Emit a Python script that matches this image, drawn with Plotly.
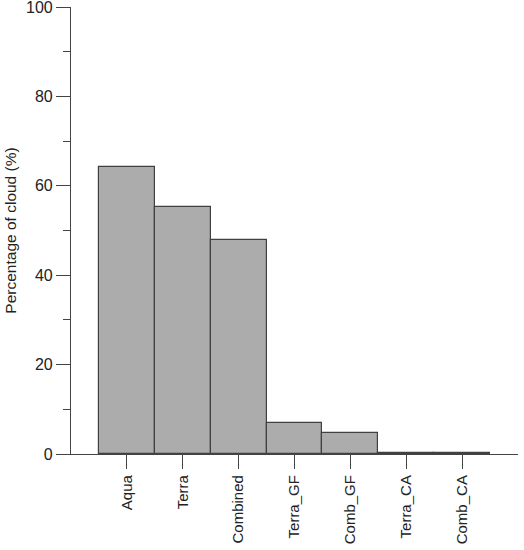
import plotly.graph_objects as go

# values
categories = ["Aqua", "Terra", "Combined", "Terra_GF", "Comb_GF", "Terra_CA", "Comb_CA"]
cloud_pct = [64.2, 55.3, 47.9, 7.0, 4.6, 0.3, 0.2]
y_ticks = [0, 20, 40, 60, 80, 100]

fig = go.Figure()
fig.add_trace(go.Bar(
    x=list(range(len(categories))),
    y=cloud_pct,
    width=1,
    marker=dict(color="#acacac", line=dict(color="#404040", width=1.2)),
))

fig.update_layout(
    width=524, height=550,
    margin=dict(l=71, r=6, t=7, b=96),
    plot_bgcolor="white", paper_bgcolor="white",
    font=dict(family="Liberation Sans, Arial, sans-serif", color="#222222"),
    showlegend=False,
    bargap=0,
)
fig.update_xaxes(
    range=[-1, len(categories)],
    tickmode="array",
    tickvals=list(range(len(categories))),
    ticktext=categories,
    tickangle=-90,
    ticks="outside", ticklen=14, tickcolor="#444444", tickwidth=1.2,
    showline=True, linecolor="#444444", linewidth=1.2,
    showgrid=False, zeroline=False,
    automargin=False,
    tickfont=dict(size=15),
)
fig.update_yaxes(
    range=[0, 100],
    tickvals=y_ticks,
    ticks="outside", ticklen=14, tickcolor="#444444", tickwidth=1.2,
    minor=dict(ticks="outside", ticklen=7, dtick=10, tickcolor="#444444", tickwidth=1.2, showgrid=False),
    showline=True, linecolor="#444444", linewidth=1.2,
    showgrid=False, zeroline=False,
    automargin=False,
    ticklabeloverflow="allow",
    tickfont=dict(size=16),
    title=dict(text="Percentage of cloud (%)", font=dict(size=15.5), standoff=5),
)

# page body has a default 8px margin; drop it so the figure sits at the corner
fig.write_html("out.html", config={"displayModeBar": False},
               post_script="document.body.style.margin='0';")
